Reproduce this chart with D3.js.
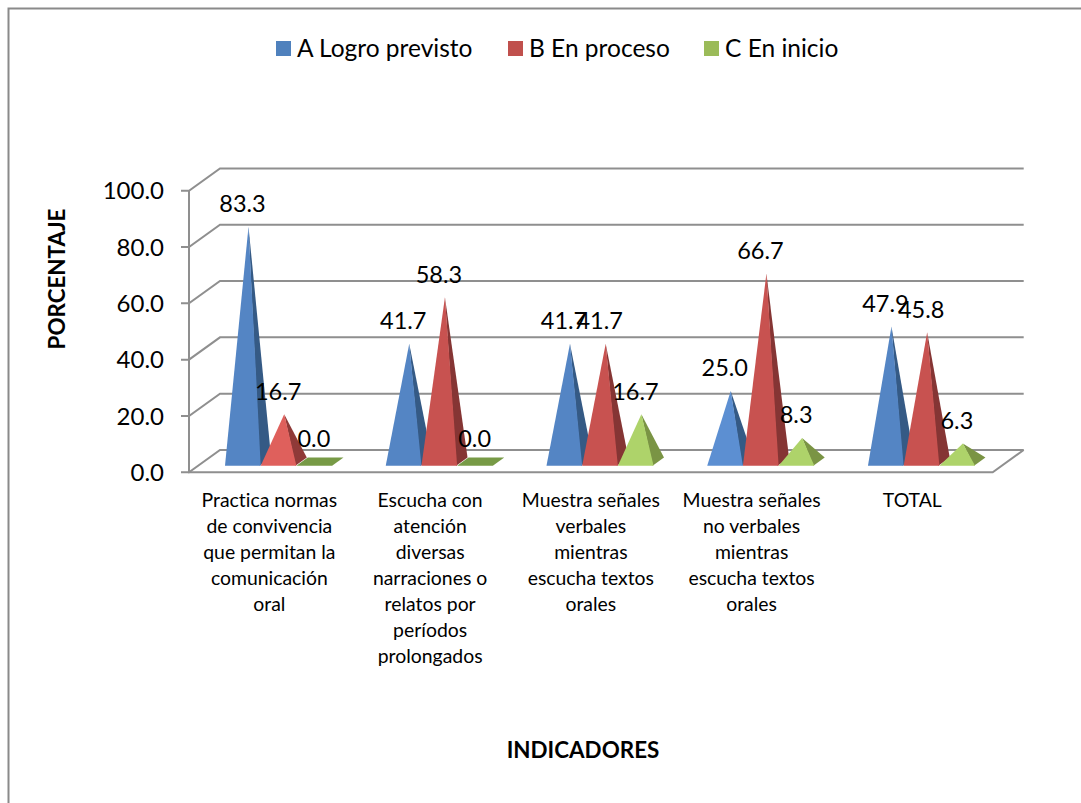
<!DOCTYPE html>
<html><head><meta charset="utf-8">
<style>html,body{margin:0;padding:0;background:#fff}svg{display:block}text{font-family:Lato,"Noto Sans",sans-serif;fill:#000;font-variant-ligatures:none}</style>
<script src="https://cdn.jsdelivr.net/npm/d3@7/dist/d3.min.js"></script>
</head><body><svg id="c" width="1081" height="803"></svg>
<script>
const categories = [
  ["Practica normas","de convivencia","que permitan la","comunicación","oral"],
  ["Escucha con","atención","diversas","narraciones o","relatos por","períodos","prolongados"],
  ["Muestra señales","verbales","mientras","escucha textos","orales"],
  ["Muestra señales","no verbales","mientras","escucha textos","orales"],
  ["TOTAL"]
];
const seriesNames = ["A Logro previsto","B En proceso","C En inicio"];
const logroPrevisto = [83.3,41.7,41.7,25.0,47.9];
const enProceso = [16.7,58.3,41.7,66.7,45.8];
const enInicio = [0.0,0.0,16.7,8.3,6.3];
const yTicks = [0,20,40,60,80,100];
const frontColors = ["#5485c4","#c85250","#aed36a"];
const sideColors = ["#355a85","#853534","#7a9444"];
const legendColors = ["#4f81bd","#c0504d","#9bbb59"];
const flatColor = "#779a46";

const svg = d3.select("#c");
const series = [logroPrevisto,enProceso,enInicio];
const dx = 31, dy = -22.3;           // wall depth
const y = d3.scaleLinear().domain([0,100]).range([472.3,190.7]);
const x = d3.scaleBand().domain(d3.range(5)).range([189,992.7]);
const gridColor = "#8f8f8f";

// frame
svg.append("path").attr("d","M8.5 803V8.5H1081").attr("fill","none").attr("stroke","#8a8a8a").attr("stroke-width",2);

// walls and floor
const right = x.range()[1], left = x.range()[0];
yTicks.forEach(t=>{
  svg.append("path").attr("d",`M${left-8} ${y(t)}H${left}L${left+dx} ${y(t)+dy}H${right+dx}`)
    .attr("fill","none").attr("stroke",gridColor).attr("stroke-width",2);
  svg.append("text").attr("x",164).attr("y",y(t)).attr("dy","0.36em").attr("text-anchor","end")
    .attr("font-size",24).text(t.toFixed(1));
});
svg.append("path").attr("d",`M${left} ${y(100)}V${y(0)}H${right}L${right+dx} ${y(0)+dy}`)
  .attr("fill","none").attr("stroke",gridColor).attr("stroke-width",2);

// pyramids
const bw = 35.7, sideX = 10.4, sideY = -8.2, baseOff = 6.6, apexX = 23.5, groupPad = 36;
const baseY = y(0) - baseOff;
categories.forEach((c,i)=>{
  series.forEach((s,k)=>{
    const x0 = x(i) + groupPad + k*bw, v = s[i];
    const apexY = y(v) - baseOff - 4.4;
    const g = svg.append("g");
    if(v===0){
      g.append("polygon").attr("fill",flatColor)
       .attr("points",[[x0,baseY],[x0+bw,baseY],[x0+bw+sideX+1,baseY+sideY],[x0+sideX+1,baseY+sideY]].join(" "));
    } else {
      g.append("polygon").attr("fill",(k===1&&i===0)?"#8f3a38":sideColors[k])
       .attr("points",[[x0+bw-1,baseY],[x0+bw+sideX,baseY+sideY],[x0+apexX,apexY]].join(" "));
      g.append("polygon").attr("fill",(k===1&&i===0)?"#df605c":(k===0&&i===3)?"#5c8fd2":frontColors[k])
       .attr("points",[[x0,baseY],[x0+bw,baseY],[x0+apexX,apexY]].join(" "));
    }
  });
});
// value labels
categories.forEach((c,i)=>{
  series.forEach((s,k)=>{
    const x0 = x(i) + groupPad + k*bw, v = s[i];
    svg.append("text").attr("x",x0+apexX-6).attr("y",y(v)-baseOff-4.4-23).attr("dy","0.36em")
      .attr("text-anchor","middle").attr("font-size",23.5).text(v.toFixed(1));
  });
});
// category labels
categories.forEach((lines,i)=>{
  lines.forEach((l,j)=>{
    svg.append("text").attr("x",x(i)+x.bandwidth()/2).attr("y",500.5+j*26).attr("dy","0.36em")
      .attr("text-anchor","middle").attr("font-size",19.4).text(l);
  });
});
// legend
const legendX = [276,508,704];
seriesNames.forEach((n,k)=>{
  svg.append("rect").attr("x",legendX[k]).attr("y",41).attr("width",15).attr("height",15).attr("fill",legendColors[k]);
  svg.append("text").attr("x",legendX[k]+21).attr("y",48).attr("dy","0.36em").attr("font-size",24.5).text(n);
});
// axis titles
svg.append("text").attr("transform","translate(57,279) rotate(-90)").attr("dy","0.36em").attr("text-anchor","middle")
  .attr("font-size",22.4).attr("font-weight",700).text("PORCENTAJE");
svg.append("text").attr("x",583).attr("y",750).attr("dy","0.36em").attr("text-anchor","middle")
  .attr("font-size",22.4).attr("font-weight",700).text("INDICADORES");
</script></body></html>
